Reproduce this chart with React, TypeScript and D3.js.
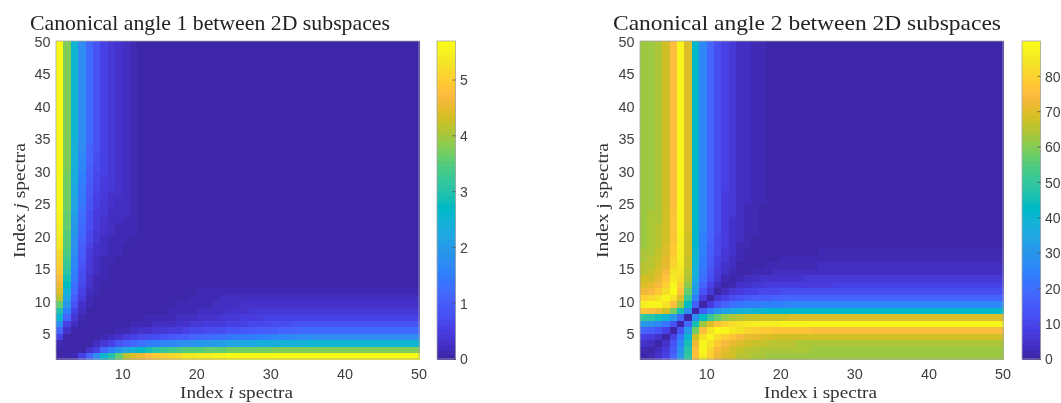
import React from 'react';
import * as d3 from 'd3';

// MATLAB parula, 64 steps
const parula = [
  '#3e26a8', '#402ab4', '#422fc0', '#4432cb', '#4537d5', '#463bde', '#4741e5', '#4747eb',
  '#474df0', '#4752f4', '#4758f8', '#465dfb', '#4563fd', '#4269fe', '#3e6fff', '#3875fe',
  '#327bfc', '#2f81fa', '#2d87f7', '#2d8cf3', '#2b91ef', '#2796eb', '#259ae8', '#23a0e5',
  '#20a5e3', '#1ca9df', '#18addb', '#12b1d6', '#08b5d0', '#01b8ca', '#02bac3', '#0bbdbc',
  '#19bfb5', '#24c1ae', '#2cc3a7', '#31c69f', '#37c897', '#3fca8e', '#4acb84', '#57cc7a',
  '#64cd6f', '#72cd64', '#80cc59', '#8fcb4e', '#9dc943', '#abc739', '#b9c431', '#c5c22a',
  '#d1bf27', '#dcbd29', '#e6bb2d', '#efba36', '#f8ba3d', '#febe3c', '#fec338', '#fec933',
  '#fccf30', '#f9d62d', '#f7dc2a', '#f5e327', '#f5e924', '#f6ef20', '#f7f51b', '#f9fb15'
];

// upper triangle, one list per index i holding the values for j = i+1, i+2, ...
// the last value of a list carries on to j = 49
const angle1Rows = [
  [0.03, 0.12, 0.6, 1.15, 1.7, 2.5, 3.0, 3.65, 4.15, 4.4, 4.6, 4.8, 4.9, 5.0, 5.15, 5.25, 5.35, 5.42, 5.48, 5.52, 5.56, 5.6, 5.62, 5.64, 5.66, 5.68, 5.7],
  [0.02, 0.08, 0.35, 0.6, 1.1, 1.55, 1.9, 2.2, 2.45, 2.7, 2.9, 3.1, 3.25, 3.35, 3.42, 3.48, 3.52, 3.56, 3.6, 3.62, 3.65, 3.67, 3.69, 3.71, 3.72, 3.73, 3.74, 3.75, 3.76, 3.77, 3.78, 3.79, 3.8],
  [0.02, 0.06, 0.2, 0.4, 0.6, 0.85, 1.05, 1.2, 1.3, 1.45, 1.55, 1.62, 1.68, 1.74, 1.8, 1.86, 1.92, 1.98, 2.04, 2.1, 2.15, 2.2, 2.24, 2.28, 2.32, 2.35, 2.38, 2.41, 2.44, 2.46, 2.48, 2.5],
  [0.02, 0.05, 0.1, 0.2, 0.3, 0.45, 0.55, 0.65, 0.72, 0.8, 0.86, 0.92, 0.98, 1.04, 1.1, 1.16, 1.22, 1.28, 1.33, 1.38, 1.43, 1.47, 1.51, 1.55, 1.58, 1.61, 1.64, 1.67, 1.7, 1.72, 1.75],
  [0.01, 0.03, 0.06, 0.1, 0.15, 0.2, 0.27, 0.33, 0.38, 0.43, 0.48, 0.53, 0.58, 0.63, 0.68, 0.72, 0.76, 0.8, 0.84, 0.88, 0.92, 0.95, 0.98, 1.01, 1.04, 1.07, 1.1, 1.13, 1.16, 1.18, 1.2],
  [0.01, 0.02, 0.04, 0.06, 0.09, 0.12, 0.15, 0.18, 0.22, 0.26, 0.3, 0.34, 0.38, 0.42, 0.46, 0.49, 0.52, 0.55, 0.58, 0.61, 0.64, 0.67, 0.7, 0.73, 0.76, 0.79, 0.82, 0.85],
  [0.01, 0.02, 0.03, 0.05, 0.07, 0.09, 0.11, 0.13, 0.16, 0.19, 0.22, 0.25, 0.28, 0.31, 0.34, 0.37, 0.4, 0.43, 0.46, 0.49, 0.52, 0.55, 0.58, 0.6],
  [0.01, 0.02, 0.03, 0.04, 0.05, 0.06, 0.08, 0.1, 0.12, 0.14, 0.16, 0.18, 0.2, 0.23, 0.26, 0.29, 0.32, 0.35, 0.38, 0.4, 0.42],
  [0.01, 0.02, 0.03, 0.04, 0.05, 0.06, 0.07, 0.09, 0.11, 0.13, 0.15, 0.17, 0.19, 0.21, 0.23, 0.25, 0.27, 0.3],
  [0.01, 0.02, 0.03, 0.04, 0.05, 0.06, 0.07, 0.08, 0.1, 0.12, 0.14, 0.16, 0.18, 0.2],
  [0.01, 0.02, 0.03, 0.04, 0.05, 0.06, 0.07, 0.08, 0.1, 0.12, 0.13],
  [0.01, 0.02, 0.03, 0.04, 0.05, 0.06, 0.07, 0.08],
  [0.01, 0.02, 0.03, 0.04, 0.05],
  [0.01, 0.02, 0.03],
  [0.01, 0.02],
  [0.01]
];

const angle2Rows = [
  [1.5, 4.5, 9.5, 18, 31, 49.5, 77, 87, 79, 73, 69.5, 67.5, 66, 65, 64.2, 63.6, 63.2, 62.9, 62.7, 62.5, 62.4, 62.3, 62.2, 62.15, 62.1, 62.05, 62],
  [3, 8, 16.5, 29.5, 48, 75.5, 88.5, 80.5, 74.5, 71, 68.5, 67, 66, 65.2, 64.6, 64.2, 63.9, 63.7, 63.5, 63.4, 63.3, 63.2, 63.15, 63.1, 63.05, 63],
  [5, 13.5, 26.5, 45, 72.5, 88.5, 83.5, 77.5, 74, 71, 69, 67.5, 66.7, 66.1, 65.7, 65.3, 65, 64.8, 64.6, 64.5, 64.4, 64.3, 64.2, 64.1, 64],
  [8.5, 21.5, 40, 67.5, 83.5, 88.5, 82.5, 79, 76, 73.5, 71.5, 70.5, 69.7, 69.2, 68.8, 68.5, 68.3, 68.1, 68, 67.9, 67.8, 67.7, 67.6, 67.5],
  [13, 31.5, 59, 75, 83, 89, 87.5, 85, 83, 81, 79.5, 78.5, 77.8, 77.2, 76.8, 76.5, 76.2, 76, 75.9, 75.8, 75.7, 75.6, 75.5],
  [18.5, 46, 62, 70, 76, 79.5, 82, 84, 85, 85.8, 86.4, 86.8, 87.1, 87.3, 87.5, 87.6, 87.7, 87.8, 87.85, 87.9, 87.95, 88],
  [27.5, 43.5, 51.5, 57.5, 61, 63.5, 65.5, 66.5, 67.3, 67.9, 68.3, 68.6, 68.8, 69, 69.1, 69.2, 69.3, 69.35, 69.4, 69.45, 69.5],
  [16, 24, 30, 33.5, 36, 38, 39, 39.8, 40.4, 40.8, 41.1, 41.3, 41.5, 41.6, 41.7, 41.8, 41.85, 41.9, 41.95, 42],
  [8, 14, 17.5, 20, 22, 23, 23.8, 24.4, 24.8, 25.1, 25.3, 25.5, 25.6, 25.7, 25.8, 25.85, 25.9, 25.95, 26],
  [6, 9.5, 12, 14, 15, 15.8, 16.4, 16.8, 17.1, 17.3, 17.5, 17.6, 17.7, 17.8, 17.85, 17.9, 17.95, 18],
  [3.5, 6, 8, 9, 9.8, 10.4, 10.8, 11.1, 11.3, 11.5, 11.6, 11.7, 11.8, 11.85, 11.9, 11.95, 12],
  [2.5, 4.5, 5.5, 6.3, 6.9, 7.3, 7.6, 7.8, 8, 8.1, 8.2, 8.3, 8.35, 8.4, 8.45, 8.5],
  [2, 3, 3.8, 4.4, 4.8, 5.1, 5.3, 5.5, 5.6, 5.7, 5.8, 5.85, 5.9, 5.95, 6],
  [1, 1.8, 2.4, 2.8, 3.1, 3.3, 3.5, 3.6, 3.7, 3.8, 3.85, 3.9, 3.95, 4],
  [0.8, 1.4, 1.8, 2.1, 2.3, 2.5, 2.6, 2.7, 2.8, 2.85, 2.9, 2.95, 3],
  [0.6, 1, 1.3, 1.5, 1.7, 1.8, 1.9, 2, 2.05, 2.1, 2.15, 2.2],
  [0.4, 0.7, 0.9, 1.1, 1.2, 1.3, 1.4, 1.45, 1.5, 1.55, 1.6],
  [0.3, 0.5, 0.7, 0.8, 0.9, 1, 1.05, 1.1, 1.15, 1.2],
  [0.2, 0.4, 0.5, 0.6, 0.7, 0.75, 0.8, 0.85, 0.9],
  [0.2, 0.3, 0.4, 0.5, 0.55, 0.6, 0.65, 0.7],
  [0.1, 0.2, 0.3, 0.35, 0.4, 0.45, 0.5],
  [0.1, 0.2, 0.25, 0.3, 0.35, 0.4],
  [0.1, 0.15, 0.2, 0.25, 0.3],
  [0.05, 0.1, 0.15, 0.2],
  [0.05, 0.1, 0.15],
  [0.05, 0.1],
  [0.05]
];

const xTicks = [10, 20, 30, 40, 50];
const yTicks = [5, 10, 15, 20, 25, 30, 35, 40, 45, 50];
const angle1BarTicks = [0, 1, 2, 3, 4, 5];
const angle2BarTicks = [0, 10, 20, 30, 40, 50, 60, 70, 80];

const SERIF = '"Liberation Serif", serif';
const SANS = '"Liberation Sans", Arial, sans-serif';
const TICK_COLOR = '#404040';
const FRAME_COLOR = '#a8a8a8';

const TOP = 41;
const BOTTOM = 359;

// value of the symmetric matrix at grid indices a, b (1-based)
const cellValue = (rows: number[][], a: number, b: number) => {
  if (a === b) return 0;
  const lo = Math.min(a, b);
  const hi = Math.max(a, b);
  const row = rows[lo - 1];
  if (!row) return 0;
  return row[Math.min(hi - lo - 1, row.length - 1)];
};

const Heatmap = ({ left, barLeft, rows, maxValue, barTicks, title, titleX, titleWidth, xName, yName, yNameX }: any) => {
  const x = d3.scaleLinear().domain([1, 50]).range([left, left + 363]);
  const y = d3.scaleLinear().domain([1, 50]).range([BOTTOM, TOP]);
  const color = d3.scaleQuantize<string>().domain([0, maxValue]).range(parula);
  const barY = d3.scaleLinear().domain([0, maxValue]).range([BOTTOM, TOP]);
  const grid = d3.range(1, 50);
  const barW = 18.5;
  const steps = d3.range(parula.length);
  const stepH = (BOTTOM - TOP) / parula.length;

  return (
    <g>
      <g shapeRendering="crispEdges">
        {grid.map((i) =>
          grid.map((j) => (
            <rect
              key={`${i}-${j}`}
              x={x(i)}
              y={y(j + 1)}
              width={x(i + 1) - x(i) + 0.5}
              height={y(j) - y(j + 1) + 0.5}
              fill={color(cellValue(rows, i, j))}
            />
          ))
        )}
      </g>
      <rect x={left} y={TOP} width={363} height={BOTTOM - TOP} fill="none" stroke={FRAME_COLOR} strokeWidth={0.8} />

      {xTicks.map((t) => (
        <text key={t} x={x(t)} y={379} textAnchor="middle" fontFamily={SANS} fontSize={14.4} fill={TICK_COLOR}>{t}</text>
      ))}
      {yTicks.map((t) => (
        <text key={t} x={left - 5.5} y={y(t) + 6} textAnchor="end" fontFamily={SANS} fontSize={14.4} fill={TICK_COLOR}>{t}</text>
      ))}

      <text x={titleX} y={30} fontFamily={SERIF} fontSize={22} fill="#222" textLength={titleWidth} lengthAdjust="spacingAndGlyphs">{title}</text>
      <text x={left + 124} y={398} fontFamily={SERIF} fontSize={16.5} fill="#333" textLength={113} lengthAdjust="spacingAndGlyphs">{xName}</text>
      <text transform={`translate(${yNameX},258) rotate(-90)`} fontFamily={SERIF} fontSize={16.5} fill="#333" textLength={115} lengthAdjust="spacingAndGlyphs">{yName}</text>

      {/* colorbar */}
      <g shapeRendering="crispEdges">
        {steps.map((s) => (
          <rect key={s} x={barLeft} y={BOTTOM - (s + 1) * stepH} width={barW} height={stepH + 0.5} fill={parula[s]} />
        ))}
      </g>
      <rect x={barLeft} y={TOP} width={barW} height={BOTTOM - TOP} fill="none" stroke={FRAME_COLOR} strokeWidth={0.8} />
      {barTicks.map((t: number) => (
        <g key={t}>
          <line x1={barLeft + barW - 3} x2={barLeft + barW} y1={barY(t)} y2={barY(t)} stroke="#555" strokeWidth={0.8} />
          <text x={barLeft + barW + 4.5} y={barY(t) + 5.3} fontFamily={SANS} fontSize={14} fill={TICK_COLOR}>{t}</text>
        </g>
      ))}
    </g>
  );
};

export default function App() {
  return (
    <svg width={1061} height={403} style={{ position: 'absolute', left: 0, top: 0, background: '#fff' }}>
      <defs>
        {/* the source picture is a soft, resampled raster */}
        <filter id="soft" filterUnits="userSpaceOnUse" x={0} y={0} width={1061} height={403}>
          <feGaussianBlur stdDeviation={0.4} />
        </filter>
      </defs>
      <g filter="url(#soft)">
        <Heatmap
          left={56}
          barLeft={437}
          rows={angle1Rows}
          maxValue={5.7}
          barTicks={angle1BarTicks}
          title="Canonical angle 1 between 2D subspaces"
          titleX={30}
          titleWidth={360}
          xName={<>Index <tspan fontStyle="italic">i</tspan> spectra</>}
          yName={<>Index <tspan fontStyle="italic">j</tspan> spectra</>}
          yNameX={25}
        />
        <Heatmap
          left={640}
          barLeft={1022}
          rows={angle2Rows}
          maxValue={90}
          barTicks={angle2BarTicks}
          title="Canonical angle 2 between 2D subspaces"
          titleX={613}
          titleWidth={388}
          xName="Index i spectra"
          yName="Index j spectra"
          yNameX={608}
        />
      </g>
    </svg>
  );
}
